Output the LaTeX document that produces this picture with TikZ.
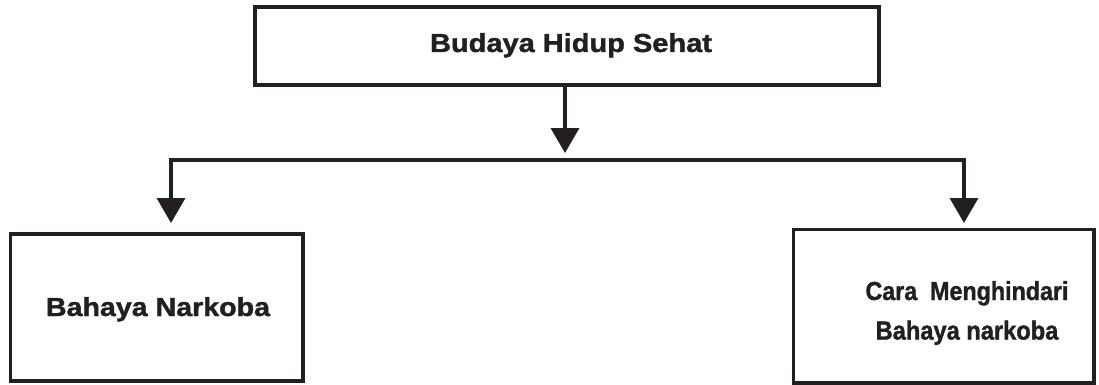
\documentclass[tikz,border=0pt]{standalone}
\usepackage{fontspec}
\setmainfont{Liberation Sans}[BoldFeatures={FakeBold=1.4}]
\usetikzlibrary{arrows.meta}
\definecolor{ink}{HTML}{231F20}
\newcommand{\widen}[2]{\scalebox{#1}[1]{#2}}
\tikzset{
  box/.style={draw=ink, line width=3.8pt, rectangle, inner sep=0pt, outer sep=0pt},
  lbl/.style={text=ink, inner sep=0pt, anchor=base, font=\fontsize{26}{30}\selectfont\bfseries},
  conn/.style={draw=ink, line width=3.6pt},
  tri/.tip={Triangle[length=25pt,width=28pt]}
}
\begin{document}
\begin{tikzpicture}[x=1pt,y=-1pt]
\useasboundingbox (0,0) rectangle (1099,385);
% boxes
\node[box, minimum width=624pt, minimum height=78pt] (top) at (567,46) {};
\node[box, minimum width=292.5pt, minimum height=147pt] (left) at (156.75,307.5) {};
\node[box, minimum width=300.5pt, minimum height=153.5pt] (right) at (943.75,306.25) {};
% labels
\node[lbl] (ttop) at (571,52) {\widen{1.115}{Budaya Hidup Sehat}};
\node[lbl] (tleft) at (158,316) {\widen{1.10}{Bahaya Narkoba}};
\node[lbl] (tr1) at (967,300) {\widen{0.895}{Cara\ \ Menghindari}};
\node[lbl] (tr2) at (967,339.5) {\widen{0.91}{Bahaya narkoba}};
% connectors
\coordinate (tipM) at (565,153);
\coordinate (tipL) at (171,223);
\coordinate (tipR) at (964,223);
\coordinate (bar) at (565,160);
\draw[conn, -{tri}] (top.south -| tipM) -- (tipM);
\draw[conn, {tri}-{tri}] (tipL) |- (bar -| tipR) -- (tipR);
\end{tikzpicture}
\end{document}
